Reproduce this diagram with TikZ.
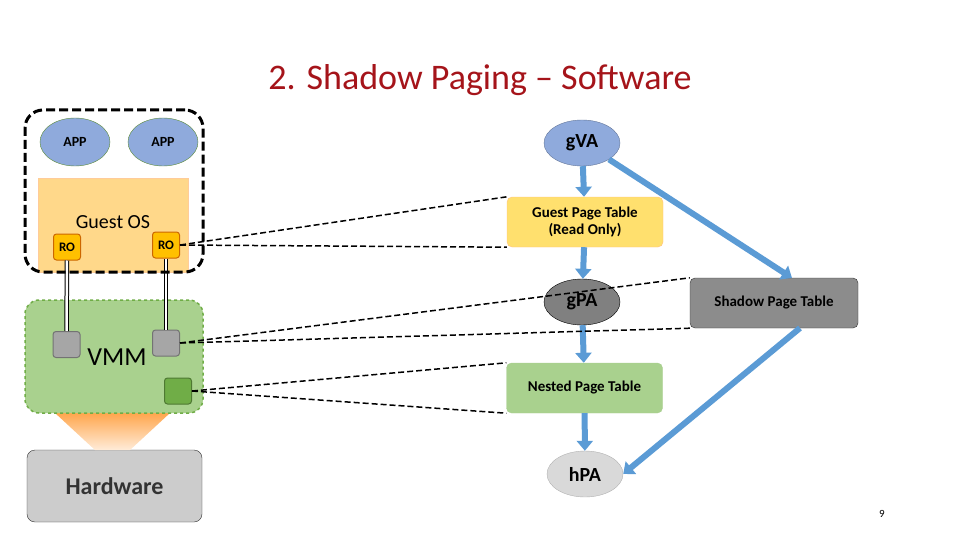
\documentclass[tikz,border=0pt]{standalone}
\usepackage{fontspec}
\setmainfont{Carlito}
\usetikzlibrary{arrows.meta,shapes.geometric}
\definecolor{tred}{HTML}{A5141A}
\definecolor{appblue}{HTML}{8FAADC}
\definecolor{osor}{HTML}{FFD88A}
\definecolor{roor}{HTML}{FFC000}
\definecolor{vmmg}{HTML}{A9D18E}
\definecolor{dg}{HTML}{70AD47}
\definecolor{arr}{HTML}{5B9BD5}
\begin{document}
\begin{tikzpicture}[x=1pt,y=-1pt,
  ell/.style={ellipse,minimum width=76pt,minimum height=46pt,inner sep=0pt,draw=#1!70!black,font=\fontsize{20}{22}\selectfont\bfseries},
  tbl/.style={rounded corners=5pt,minimum width=156pt,minimum height=50pt,align=center,font=\fontsize{15}{17}\selectfont\bfseries},
  blk/.style={draw=arr!70!black,line width=6pt,arr,-{Triangle[width=16pt,length=10pt]},shorten >=0pt},
  dl/.style={dashed,line width=1.5pt,dash pattern=on 6pt off 3pt},
  sq/.style={rounded corners=3pt,minimum width=27pt,minimum height=26pt,inner sep=0pt}]
\useasboundingbox (0,0) rectangle (960,540);
\node[text=tred,font=\fontsize{36}{40}\selectfont] (title) at (480,80) {2. Shadow Paging -- Software};
% left
\node[draw=black!80,fill=black!20,rounded corners=8pt,minimum width=175pt,minimum height=72pt,font=\fontsize{24}{26}\selectfont\bfseries,text=black!80] (hw) at (114.5,486) {Hardware};
\shade[top color=orange!70,bottom color=orange!15] (55,413) -- (170,413) -- (130,450) -- (95,450) -- cycle;
\node[draw=dg,fill=vmmg,dashed,line width=1.5pt,rounded corners=14pt,minimum width=178pt,minimum height=113pt] (vmm) at (114,356.5) {};
\node[font=\fontsize{26}{28}\selectfont] (vmmt) at (117,357) {VMM};
\node[fill=osor,minimum width=150pt,minimum height=94pt,draw=orange!40] (os) at (113,225) {};
\node[font=\fontsize{20}{22}\selectfont] (ost) at (113,222) {Guest OS};
\node[draw=dg!80!black,fill=appblue,ellipse,minimum width=70pt,minimum height=48pt,font=\fontsize{14}{16}\selectfont\bfseries] (app1) at (75,142) {APP};
\node[draw=dg!80!black,fill=appblue,ellipse,minimum width=70pt,minimum height=48pt,font=\fontsize{14}{16}\selectfont\bfseries] (app2) at (163,142) {APP};
\node[sq,fill=roor,draw=orange!80!black,line width=1pt,font=\fontsize{13}{15}\selectfont\bfseries] (ro1) at (67,247) {RO};
\node[sq,fill=roor,draw=orange!80!black,line width=1pt,font=\fontsize{13}{15}\selectfont\bfseries] (ro2) at (166,245) {RO};
\node[sq,fill=black!35,draw=black!55,line width=1pt] (g1) at (66.5,344.5) {};
\node[sq,fill=black!35,draw=black!55,line width=1pt] (g2) at (166,343) {};
\node[sq,fill=dg,draw=dg!70!black,line width=1pt] (gr) at (178,391) {};
\draw[double,line width=1pt,double distance=2.5pt] (ro1.south) -- (g1.north);
\draw[double,line width=1pt,double distance=2.5pt] (ro2.south) -- (g2.north);
\node[draw,dashed,line width=3pt,dash pattern=on 9pt off 4pt,rounded corners=18pt,minimum width=178pt,minimum height=162pt] (guest) at (114,191) {};
% right
\node[ell=appblue,fill=appblue] (gva) at (582,143) {gVA};
\node[tbl,fill=osor!80!yellow,draw=orange!50] (gpt) at (585,222) {Guest Page Table\\(Read Only)};
\node[ell=black,fill=black!50] (gpa) at (582,302) {gPA};
\node[tbl,fill=black!45,draw=black!80,minimum width=168pt] (spt) at (774,303) {Shadow Page Table};
\node[tbl,fill=vmmg,draw=dg!60] (npt) at (584.5,388) {Nested Page Table};
\node[ell=black,fill=black!15,draw=black!30] (hpa) at (585,474) {hPA};
\draw[blk] (gva) -- (gpt);
\draw[blk] (gpt) -- (gpa);
\draw[blk] (gpa) -- (npt);
\draw[blk] (npt) -- (hpa);
\coordinate (sptin) at (792,278);
\coordinate (sptout) at (800,328);
\draw[blk] (gva.south east) -- (sptin);
\draw[blk] (sptout) -- (hpa.east);
% dashed
\draw[dl] (ro2.east) -- (gpt.north west);
\draw[dl] (ro2.east) -- (gpt.south west);
\draw[dl] (g2.east) -- (spt.north west);
\draw[dl] (g2.east) -- (spt.south west);
\draw[dl] (gr.east) -- (npt.north west);
\draw[dl] (gr.east) -- (npt.south west);
\node[font=\fontsize{11}{13}\selectfont] (pn) at (882,514) {9};
\end{tikzpicture}
\end{document}
